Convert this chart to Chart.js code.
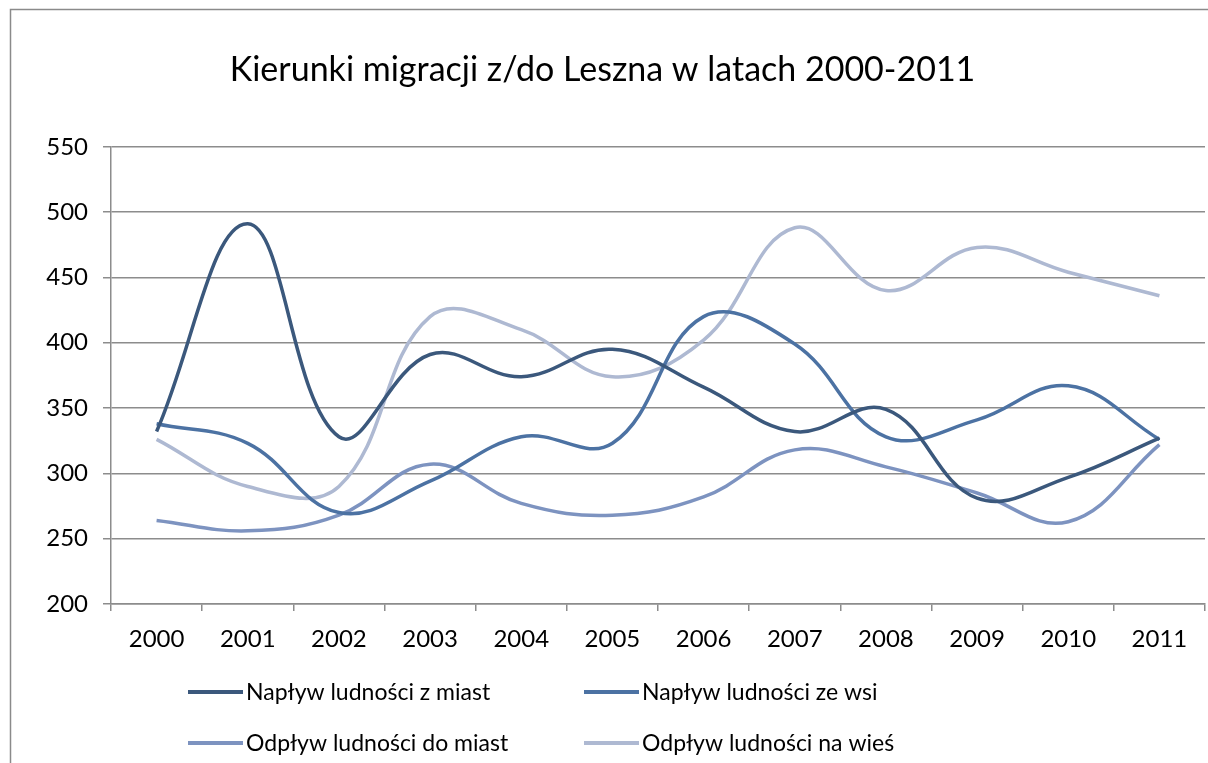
<!DOCTYPE html>
<html>
<head>
<meta charset="utf-8">
<script src="https://cdn.jsdelivr.net/npm/chart.js@4/dist/chart.umd.min.js"></script>
<style>
  body { margin: 0; background: #fff; }
  #wrap { width: 1208px; height: 763px; }
</style>
</head>
<body>
<div id="wrap"><canvas id="line" width="1208" height="763"></canvas></div>
<script>
var years = ['2000', '2001', '2002', '2003', '2004', '2005', '2006', '2007', '2008', '2009', '2010', '2011'];
var naplywMiasta = [332, 491, 328, 391, 374, 395, 366, 332, 349, 281, 297, 327];
var naplywWies = [338, 323, 270, 294, 328, 323, 420, 399, 328, 341, 367, 326];
var odplywMiasta = [264, 256, 268, 307, 277, 268, 282, 318, 305, 285, 263, 322];
var odplywWies = [326, 290, 290, 420, 410, 374, 402, 488, 440, 473, 454, 436];
var yTicks = [200, 250, 300, 350, 400, 450, 500, 550];

var fontName = 'Lato, "Open Sans", sans-serif';
var gridColor = '#8c8c8c';

// tlo + ramka wykresu jak w Excelu
var frame = {
    id: 'frame',
    beforeDraw: function (chart) {
        var c = chart.ctx;
        c.save();
        c.fillStyle = '#fff';
        c.fillRect(0, 0, chart.width, chart.height);
        c.strokeStyle = '#8a8a8a';
        c.lineWidth = 1.5;
        c.strokeRect(10.5, 9.5, chart.width + 20, chart.height + 20);
        c.restore();
    }
};

// legenda w dwoch kolumnach
var legend2col = {
    id: 'legend2col',
    afterDraw: function (chart) {
        var c = chart.ctx;
        var cols = [188, 584];
        var rows = [692, 743];
        c.save();
        c.font = '23px ' + fontName;
        c.textBaseline = 'middle';
        c.fillStyle = '#000';
        chart.data.datasets.forEach(function (ds, i) {
            var x = cols[i % 2];
            var y = rows[Math.floor(i / 2)];
            c.strokeStyle = ds.borderColor;
            c.lineWidth = 4;
            c.beginPath();
            c.moveTo(x, y);
            c.lineTo(x + 55, y);
            c.stroke();
            c.fillText(ds.label, x + 58, y + 1);
        });
        c.restore();
    }
};

var ctx = document.getElementById('line').getContext('2d');
var chart = new Chart(ctx, {
    type: 'line',
    data: {
        labels: years,
        datasets: [
            { label: 'Napływ ludności z miast', data: naplywMiasta, borderColor: '#3B587C' },
            { label: 'Napływ ludności ze wsi', data: naplywWies, borderColor: '#4C72A3' },
            { label: 'Odpływ ludności do miast', data: odplywMiasta, borderColor: '#7D93C0' },
            { label: 'Odpływ ludności na wieś', data: odplywWies, borderColor: '#AEB9D2' }
        ]
    },
    options: {
        responsive: false,
        animation: false,
        layout: { padding: { left: 0, right: 3, top: 0, bottom: 0 } },
        elements: {
            line: { tension: 0.4, borderWidth: 3.5, fill: false },
            point: { radius: 0 }
        },
        plugins: {
            legend: { display: false },
            tooltip: { enabled: false },
            title: {
                display: true,
                text: 'Kierunki migracji z/do Leszna w latach 2000-2011',
                color: '#000',
                font: { family: fontName, size: 34, weight: 'normal' },
                padding: { top: 50, bottom: 56 }
            }
        },
        scales: {
            x: {
                offset: true,
                grid: { display: true, drawOnChartArea: false, drawTicks: true, tickLength: 7, color: gridColor, lineWidth: 1.5, offset: true },
                border: { color: gridColor, width: 1.5 },
                ticks: { color: '#000', font: { family: fontName, size: 24 }, padding: 14, maxRotation: 0 },
                afterFit: function (scale) { scale.height = 763 - 604; }
            },
            y: {
                min: 200,
                max: 550,
                afterBuildTicks: function (scale) {
                    scale.ticks = yTicks.map(function (v) { return { value: v }; });
                },
                grid: { color: gridColor, lineWidth: 1.5, tickLength: 8 },
                border: { color: gridColor, width: 1.5 },
                ticks: { color: '#000', font: { family: fontName, size: 24 }, padding: 15 },
                afterFit: function (scale) { scale.width = 111; }
            }
        }
    },
    plugins: [frame, legend2col]
});
</script>
</body>
</html>
